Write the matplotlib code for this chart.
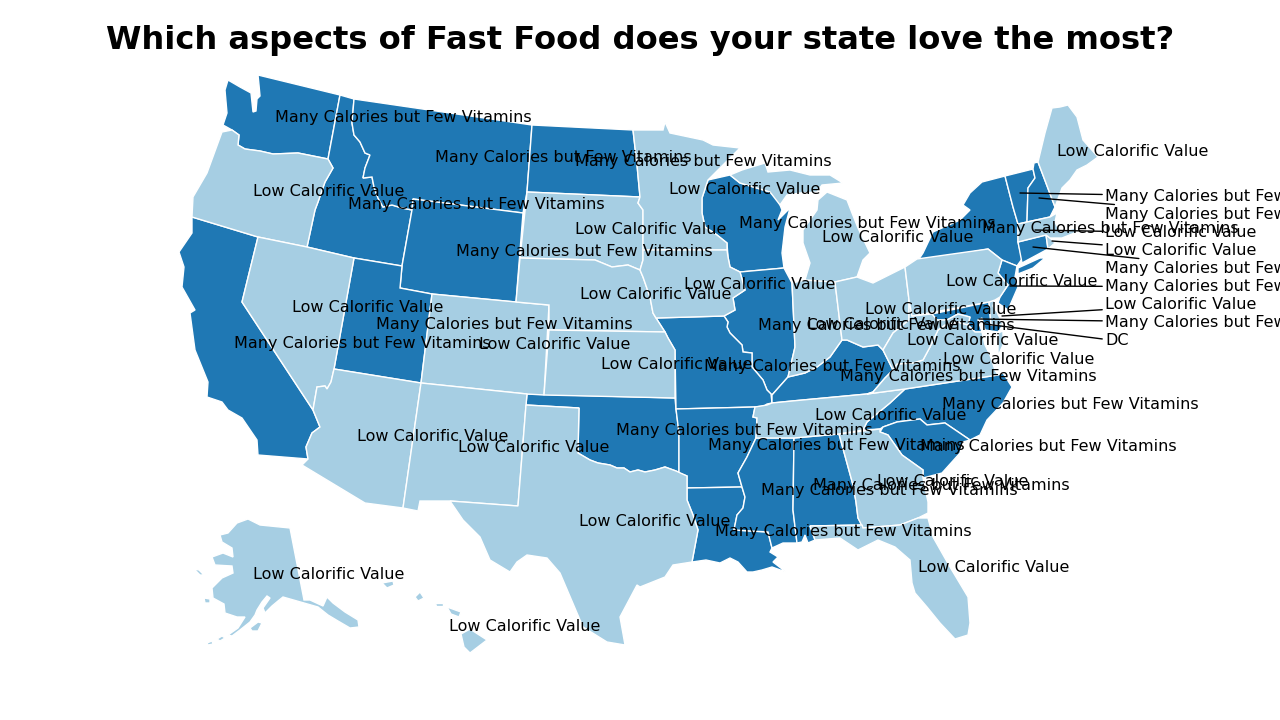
import matplotlib
matplotlib.use("Agg")
import matplotlib.pyplot as plt

DARK = "#1f78b4"
LIGHT = "#a6cee3"
MANY = "Many Calories but Few Vitamins"
LOW = "Low Calorific Value"

# state outlines, in picture pixels
WA = [(258,75),(340,95),(328,159),(298,153),(273,154),(260,151),(245,149),(238,145),(239,135),(232,130),(223,125),(227,113),(225,90),(228,80),(240,87),(251,93),(253,112),(256,111),(257,99),(260,96),(259,85)]
OR = [(192,217),(193,197),(207,173),(222,132),(232,130),(239,135),(238,145),(245,149),(260,151),(273,154),(298,153),(328,159),(333,168),(325,182),(318,202),(315,210),(307,247),(258,237)]
CA = [(192,217),(258,237),(242,302),(313,410),(320,427),(312,433),(306,447),(308,459),(258,455),(257,440),(242,418),(228,410),(222,402),(207,397),(208,382),(195,350),(190,313),(195,310),(182,287),(184,267),(179,252),(192,233)]
NV = [(258,237),(307,247),(354,258),(334,369),(331,382),(327,389),(325,386),(317,387),(313,410),(242,302)]
ID = [(340,95),(354,99),(352,123),(354,135),(360,142),(365,153),(370,155),(365,168),(363,178),(372,177),(374,187),(378,198),(383,207),(392,205),(402,208),(412,210),(402,266),(354,258),(307,247),(315,210),(318,202),(325,182),(333,168),(328,159)]
MT = [(354,99),(532,125),(527,192),(523,213),(413,199),(412,210),(402,208),(392,205),(383,207),(378,198),(374,187),(372,177),(363,178),(365,168),(370,155),(365,153),(360,142),(354,135),(352,123)]
WY = [(413,199),(523,213),(516,302),(432,294),(400,288),(402,266),(412,210)]
UT = [(354,258),(402,266),(400,288),(432,294),(421,383),(334,369)]
AZ = [(334,369),(421,383),(403,508),(365,503),(302,465),(308,459),(306,447),(312,433),(320,427),(313,410),(317,387),(325,386),(327,389),(331,382)]
CO = [(432,294),(516,302),(549,305),(544,395),(527,394),(421,383)]
NM = [(421,383),(527,394),(526,405),(518,506),(450,501),(420,501),(418,511),(403,508)]
ND = [(532,125),(633,130),(637,165),(640,197),(527,192)]
SD = [(527,192),(640,197),(638,203),(643,210),(643,260),(640,270),(628,265),(612,267),(595,260),(520,258)]
NE = [(520,258),(595,260),(612,267),(628,265),(640,270),(643,277),(650,297),(653,313),(656,318),(665,332),(549,330),(549,305),(516,302)]
KS = [(549,330),(665,332),(668,338),(675,350),(675,398),(544,395)]
OK = [(527,394),(675,398),(676,409),(679,433),(679,473),(687,476),(676,471),(665,467),(655,470),(645,472),(638,470),(630,472),(624,468),(617,468),(610,465),(598,463),(590,460),(578,453),(579,408),(526,405)]
TX = [(526,405),(579,408),(578,453),(590,460),(598,463),(610,465),(617,468),(624,468),(630,472),(638,470),(645,472),(655,470),(665,467),(676,471),(687,476),(687,500),(693,515),(698,530),(692,562),(673,565),(665,577),(640,587),(637,585),(620,617),(625,645),(607,642),(583,627),(560,573),(547,558),(527,555),(517,562),(510,572),(490,560),(480,537),(463,520),(450,501),(518,506)]
MN = [(633,130),(663,130),(665,122),(670,133),(703,140),(713,145),(740,148),(708,180),(702,198),(702,213),(705,227),(717,235),(727,243),(727,250),(643,250),(643,210),(638,203),(640,197),(637,165)]
IA = [(643,250),(727,250),(728,257),(730,267),(740,272),(745,290),(733,298),(735,310),(724,316),(656,318),(653,313),(650,297),(643,277),(640,270),(643,260)]
MO = [(656,318),(724,316),(728,322),(727,327),(730,333),(742,345),(743,352),(752,353),(752,367),(763,380),(767,390),(771,394),(772,403),(767,404),(764,406),(755,407),(676,409),(675,350),(668,338),(665,332)]
AR = [(676,409),(755,407),(753,417),(757,418),(756,438),(747,457),(738,473),(742,487),(687,488),(687,476),(679,473),(679,433)]
LA = [(687,488),(742,487),(745,497),(743,508),(737,515),(734,530),(768,532),(772,548),(770,552),(778,557),(773,562),(786,572),(772,567),(762,570),(753,572),(747,572),(738,562),(730,558),(720,563),(706,560),(692,562),(698,530),(693,515),(687,500)]
WI = [(708,180),(730,175),(740,183),(770,192),(778,200),(782,210),(778,220),(790,208),(785,227),(782,253),(784,268),(740,272),(730,267),(728,257),(727,243),(717,235),(705,227),(702,213),(702,198)]
IL = [(740,272),(784,268),(792,283),(795,347),(788,377),(772,395),(771,394),(767,390),(763,380),(752,367),(752,353),(743,352),(742,345),(730,333),(727,327),(728,322),(724,316),(735,310),(733,298),(745,290)]
IN = [(792,283),(805,280),(835,282),(842,340),(830,357),(817,367),(805,373),(788,377),(795,347)]
MI_LOWER = [(805,280),(810,263),(803,243),(803,230),(817,210),(818,200),(827,192),(847,200),(852,213),(858,228),(870,253),(863,260),(857,277),(835,282)]
MI_UPPER = [(730,175),(742,170),(765,163),(768,172),(790,170),(810,175),(830,175),(843,183),(822,185),(817,192),(800,193),(787,195),(780,205),(770,192),(740,183)]
OH = [(835,282),(857,277),(873,283),(905,267),(909,300),(909,320),(893,333),(883,350),(878,345),(863,347),(847,340),(842,340)]
KY = [(842,340),(847,340),(863,347),(878,345),(883,350),(893,370),(885,378),(873,392),(867,394),(792,401),(772,403),(772,395),(788,377),(805,373),(817,367),(830,357)]
TN = [(767,405),(772,403),(792,401),(867,394),(905,389),(890,403),(867,422),(863,430),(839,434),(794,438),(756,438),(757,418),(753,417),(755,407)]
MS = [(756,438),(794,438),(793,510),(797,543),(783,543),(772,548),(768,532),(734,530),(737,515),(743,508),(745,497),(742,487),(738,473),(747,457)]
AL = [(794,438),(839,434),(853,485),(856,502),(858,518),(862,525),(810,526),(815,540),(808,543),(805,535),(802,542),(797,543),(793,510)]
GA = [(839,434),(880,429),(880,432),(888,435),(902,455),(923,470),(923,478),(928,502),(928,513),(918,518),(900,525),(863,528),(858,518),(856,502),(853,485)]
FL = [(810,526),(862,525),(863,528),(900,525),(918,518),(928,518),(933,537),(950,567),(968,597),(970,623),(968,635),(955,639),(940,623),(927,607),(915,593),(912,583),(910,560),(895,547),(878,540),(858,550),(840,538),(815,540)]
SC = [(883,427),(897,422),(920,419),(927,425),(945,423),(970,440),(963,442),(960,453),(942,473),(923,478),(923,470),(902,455),(888,435),(880,432)]
NC = [(905,389),(998,375),(1003,373),(1012,387),(1003,403),(987,420),(980,435),(970,440),(945,423),(927,425),(920,419),(897,422),(883,427),(880,429),(863,430),(867,422),(890,403)]
VA = [(873,392),(885,378),(893,370),(897,364),(913,363),(923,360),(930,347),(938,330),(945,325),(958,322),(968,325),(975,332),(982,332),(985,345),(990,355),(995,370),(998,375),(905,389),(867,394)]
VA_SHORE = [(998,333),(1003,331),(1003,345),(998,356)]
WV = [(912,316),(932,314),(937,320),(947,320),(958,314),(970,317),(968,325),(958,322),(945,325),(938,330),(930,347),(923,360),(913,363),(897,364),(893,370),(883,350),(893,333),(909,320),(909,300)]
MD = [(932,314),(989,302),(991,325),(1003,325),(998,332),(985,330),(982,318),(978,320),(982,332),(975,332),(968,325),(970,317),(958,314),(947,320),(937,320)]
DE = [(989,302),(995,300),(993,306),(997,312),(1003,325),(991,325)]
PA = [(905,267),(917,259),(988,249),(1002,260),(998,273),(1008,285),(1000,297),(995,300),(989,302),(912,316),(909,300)]
NJ = [(1002,260),(1017,266),(1015,277),(1018,287),(1008,310),(998,303),(1000,297),(1008,285),(998,273)]
NY = [(917,262),(923,253),(933,232),(960,220),(970,210),(963,205),(970,193),(982,182),(1005,176),(1013,207),(1018,224),(1018,242),(1022,259),(1017,266),(1002,260),(988,249)]
LONG_ISLAND = [(1018,268),(1040,258),(1045,258),(1033,268),(1018,274)]
CT = [(1018,242),(1046,235),(1048,249),(1022,263)]
RI = [(1046,235),(1050,238),(1055,243),(1048,249)]
MA = [(1018,224),(1027,222),(1050,217),(1057,213),(1055,222),(1060,232),(1075,228),(1077,232),(1062,238),(1050,238),(1046,235),(1018,242)]
VT = [(1005,176),(1033,169),(1035,178),(1028,188),(1027,222),(1018,224),(1013,207)]
NH = [(1033,169),(1034,163),(1038,162),(1055,207),(1050,217),(1027,222),(1028,188),(1035,178)]
ME = [(1038,162),(1045,133),(1052,108),(1060,107),(1068,105),(1077,117),(1083,140),(1098,157),(1087,165),(1077,170),(1070,180),(1062,188),(1055,207)]
AK = [(248,519),(260,525),(290,528),(304,600),(310,600),(323,606),(327,597),(333,603),(345,612),(358,620),(359,627),(350,628),(338,621),(328,615),(318,607),(304,603),(283,597),(278,601),(272,606),(265,613),(263,608),(270,598),(267,596),(262,602),(257,610),(255,615),(250,622),(240,630),(232,636),(228,635),(238,628),(245,617),(237,617),(225,613),(224,604),(213,598),(212,588),(222,578),(233,573),(232,566),(215,565),(212,557),(223,553),(233,557),(232,548),(222,542),(220,535),(228,533),(237,523)]
AK_KODIAK = [(250,628),(258,622),(262,623),(258,631),(252,631)]
AK_NUNIVAK = [(204,598),(210,599),(210,603),(205,603)]
AK_LAWRENCE = [(194,569),(199,570),(204,575),(200,575)]
AK_ISLE_A = [(207,643),(212,641),(213,644),(208,645)]
AK_ISLE_B = [(217,639),(222,636),(225,638),(220,641)]
HI_BIG = [(461,634),(470,629),(487,640),(470,653),(464,647)]
HI_MAUI = [(447,607),(461,612),(459,617),(451,614)]
HI_MOLOKAI = [(435,603),(443,603),(443,606),(436,606)]
HI_OAHU = [(415,597),(420,592),(424,598),(418,601)]
HI_KAUAI = [(382,583),(393,581),(394,585),(387,588)]

dark_shapes = [WA, CA, ID, MT, WY, UT, ND, OK, WI, IL, MO, AR, LA, MS, AL, KY, NC, SC, NY, LONG_ISLAND, CT, VT, NH, NJ, MD]
light_shapes = [OR, NV, AZ, CO, NM, SD, NE, KS, TX, MN, IA, IN, MI_LOWER, MI_UPPER, OH, TN, GA, FL, VA, VA_SHORE, WV, DE, PA, RI, MA, ME, AK, AK_KODIAK, AK_NUNIVAK, AK_LAWRENCE, AK_ISLE_A, AK_ISLE_B, HI_BIG, HI_MAUI, HI_MOLOKAI, HI_OAHU, HI_KAUAI]

# labels sitting on the map
map_labels = [MANY, LOW, MANY, MANY, MANY, LOW, MANY, LOW, LOW, MANY, LOW, LOW, LOW, MANY, MANY, LOW, LOW, MANY, MANY, LOW, LOW, MANY, LOW, LOW, MANY, LOW, MANY, LOW, LOW, MANY, MANY, LOW, MANY, MANY, LOW, MANY, LOW, LOW, LOW, LOW, MANY, LOW]
map_x = [403, 329, 476, 563, 703, 745, 867, 898, 651, 584, 656, 760, 368, 362, 504, 555, 677, 832, 886, 883, 941, 968, 983, 1019, 1070, 891, 744, 433, 534, 836, 1048, 953, 889, 941, 655, 843, 994, 329, 525, 1133, 1110, 1022]
map_y = [117, 191, 204, 157, 161, 189, 223, 237, 229, 251, 294, 284, 307, 343, 324, 344, 364, 366, 325, 324, 309, 376, 340, 359, 404, 415, 430, 436, 447, 445, 446, 481, 490, 485, 521, 531, 567, 574, 626, 151, 228, 281]

# labels in the right column, with the point each one refers to
side_labels = [MANY, MANY, LOW, LOW, MANY, MANY, LOW, MANY, "DC"]
side_y = [196, 214, 232, 250, 268, 286, 304, 322, 340]
side_from_x = [1020, 1039, 1035, 1052, 1033, 1010, 1002, 979, 985]
side_from_y = [193, 198, 230, 241, 247, 286, 316, 319, 324]

fig = plt.figure(figsize=(12.8, 7.2), dpi=100)
ax = fig.add_axes([0, 0, 1, 1])
ax.set_xlim(0, 1280)
ax.set_ylim(720, 0)
ax.axis("off")

for shape in dark_shapes:
    xs, ys = zip(*shape)
    ax.fill(xs, ys, facecolor=DARK, edgecolor="white", linewidth=1)
for shape in light_shapes:
    xs, ys = zip(*shape)
    ax.fill(xs, ys, facecolor=LIGHT, edgecolor="white", linewidth=1)

for label, x, y in zip(map_labels, map_x, map_y):
    ax.text(x, y + 0.7, label, ha="center", va="center", fontsize=11.5, color="black")

for label, y, fx, fy in zip(side_labels, side_y, side_from_x, side_from_y):
    ax.annotate(label, xy=(fx, fy), xytext=(1105, y - 0.7), ha="left", va="center_baseline", fontsize=11.5,
                arrowprops=dict(arrowstyle="-", color="black", lw=1, shrinkA=0, shrinkB=0))

ax.text(640, 41, "Which aspects of Fast Food does your state love the most?", ha="center", va="center",
        fontsize=23.1, fontweight="bold", color="black")

fig.savefig("out.png", dpi=100)
